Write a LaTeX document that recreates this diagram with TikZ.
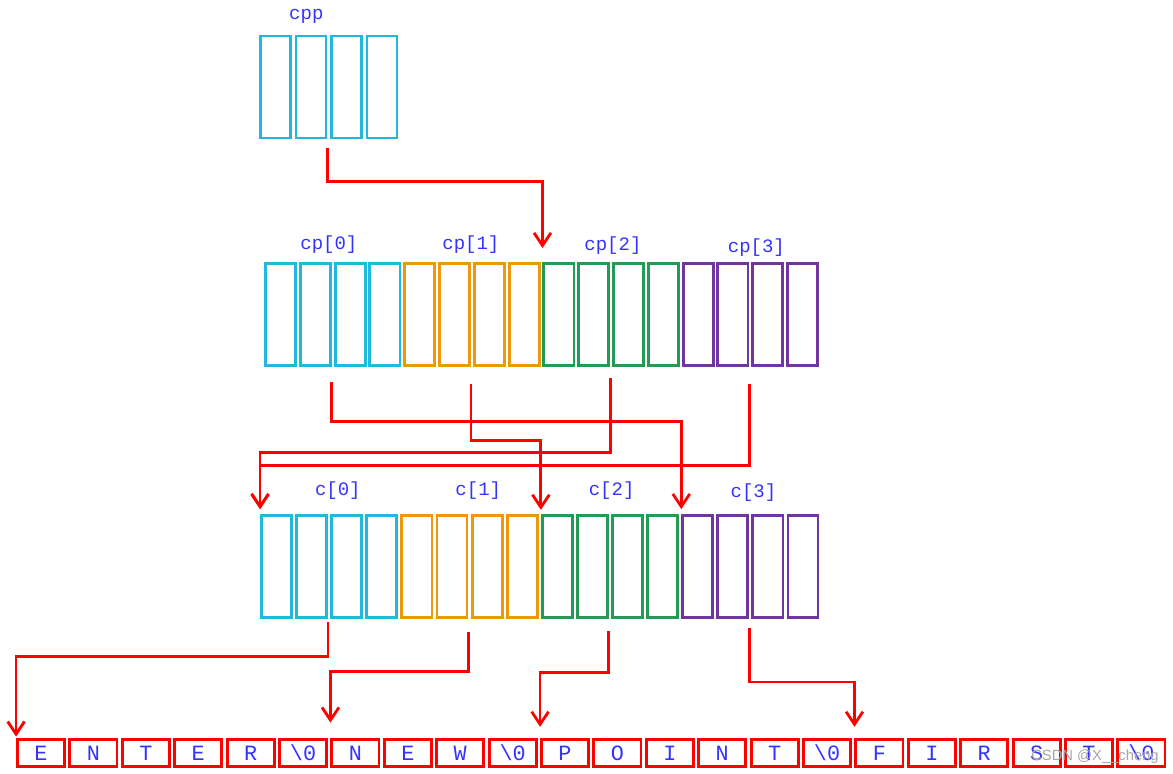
\documentclass[tikz,border=0pt]{standalone}
\usepackage{fontspec}
\setmonofont{Liberation Mono}
\setsansfont{Liberation Sans}
\usetikzlibrary{arrows.meta,positioning}
\definecolor{cellcyan}{HTML}{22B7DE}
\definecolor{cellorange}{HTML}{F0980C}
\definecolor{cellgreen}{HTML}{239B55}
\definecolor{cellpurple}{HTML}{7035A0}
\definecolor{labelblue}{HTML}{3333FF}
\begin{document}
\begin{tikzpicture}[
  x=0.025cm, y=-0.025cm,
  ptrcell/.style={draw, line width=2pt, inner sep=0pt, minimum width=0.75cm, minimum height=2.55cm},
  strcell/.style={draw=red, line width=2pt, inner sep=0pt, minimum width=1.175cm, minimum height=0.675cm, text=labelblue, font=\ttfamily\fontsize{15.5}{17}\selectfont},
  lbl/.style={inner sep=1pt, text=labelblue, font=\ttfamily\fontsize{13.5}{15}\selectfont},
  ptr/.style={draw=red, line width=2pt, -{Straight Barb[length=9pt, width=12pt]}}
]
\useasboundingbox (0,0) rectangle (1173,774);
% pointer to pointers
\foreach \i in {1,...,4}
  \node[ptrcell, draw=cellcyan] (cpp\i) at ({275.5+35.5*(\i-1)}, 87) {};
\node[lbl, above=7pt of cpp2.north east, xshift=-15pt] (cpplbl) {cpp};
% cp array and c array
\foreach \col [count=\g from 0] in {cellcyan,cellorange,cellgreen,cellpurple}
  \foreach \k in {1,...,4} {
    \pgfmathtruncatemacro\i{4*\g+\k}
    \node[ptrcell, draw=\col] (cp\i) at ({280.5+34.8*(\i-1)}, 314.5) {};
    \node[ptrcell, draw=\col] (c\i) at ({276.5+35.1*(\i-1)}, 566.5) {};
  }
\node[lbl, above=5pt of cp2.north east, xshift=-2pt] (cp0lbl) {cp[0]};
\node[lbl, above=5pt of cp6.north east] (cp1lbl) {cp[1]};
\node[lbl, above=4pt of cp10.north east, xshift=2pt] (cp2lbl) {cp[2]};
\node[lbl, above=3pt of cp14.north east, xshift=5pt] (cp3lbl) {cp[3]};
\node[lbl, above=9pt of c2.north east, xshift=7pt] (c0lbl) {c[0]};
\node[lbl, above=9pt of c6.north east, xshift=7pt] (c1lbl) {c[1]};
\node[lbl, above=9pt of c10.north east, xshift=2pt] (c2lbl) {c[2]};
\node[lbl, above=8pt of c14.north east, xshift=3pt] (c3lbl) {c[3]};
% the strings
\foreach \ch [count=\i] in {E,N,T,E,R,\textbackslash 0,N,E,W,\textbackslash 0,P,O,I,N,T,\textbackslash 0,F,I,R,S,T,\textbackslash 0}
  \node[strcell] (s\i) at ({41+52.4*(\i-1)}, 753) {\ch};
\node[inner sep=0pt, text=gray!70, font=\sffamily\fontsize{10.5}{12}\selectfont] (mark) at (1095,757) {CSDN @X\_\_cheng};
% pointers
\draw[ptr] ([yshift=-6pt]cpp2.south east) -- ++(0,34) -| ([yshift=10pt]cp9.north west);
\draw[ptr] ([yshift=-11pt]cp2.south east) -- ++(0,39) -| ([yshift=3.5pt]c13.north west);
\draw[ptr] ([yshift=-12pt]cp6.south east) -- ++(0,57) -| ([yshift=3pt]c9.north west);
\draw[ptr] ([yshift=-8pt]cp10.south east) -- ++(0,74) -| ([yshift=3.5pt]c1.north west);
\draw[ptr] ([yshift=-12pt]cp14.south east) -- ++(0,82) -| ([yshift=3.5pt]c1.north west);
\draw[ptr] ([yshift=-2pt]c2.south east) -- ++(0,35) -| ([yshift=1pt]s1.north west);
\draw[ptr] ([yshift=-9pt]c6.south east) -- ++(0,40) -| ([yshift=11pt]s7.north west);
\draw[ptr] ([yshift=-8.5pt]c10.south east) -- ++(0,42) -| ([yshift=8pt]s11.north west);
\draw[ptr] ([yshift=-6.4pt]c14.south east) -- ++(0,54) -| ([yshift=8pt]s17.north west);
\end{tikzpicture}
\end{document}
